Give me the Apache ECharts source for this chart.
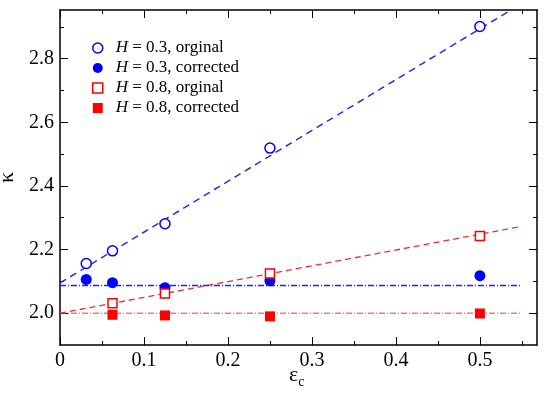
<!DOCTYPE html>
<html>
<head>
<meta charset="utf-8">
<script src="https://cdn.jsdelivr.net/npm/echarts@6/dist/echarts.min.js"></script>
<style>
  html, body { margin: 0; padding: 0; background: #fff; }
  #chart { width: 549px; height: 398px; }
</style>
</head>
<body>
<div id="chart"></div>
<script>
// eps_c values
var epsAll = [0.03125, 0.0625, 0.125, 0.25, 0.5];
var epsH08 = [0.0625, 0.125, 0.25, 0.5];

// kappa
var h03Orig = [2.156, 2.196, 2.281, 2.519, 2.901];
var h03Corr = [2.106, 2.096, 2.080, 2.102, 2.118];
var h08Orig = [2.031, 2.062, 2.125, 2.243];
var h08Corr = [1.995, 1.993, 1.990, 1.999];

// fitted lines (end points)
var fitX = [0, 0.55];
var blueFitX = [0, 0.537];
var blueFitY = [2.095, 2.953];
var redFitY = [2.0, 2.273];
var blueFlatY = [2.087, 2.087];
var redFlatY = [2.0, 2.0];

var xMajor = [0, 0.1, 0.2, 0.3, 0.4, 0.5];
var xMinor = [0.05, 0.15, 0.25, 0.35, 0.45, 0.55];
var yMajor = [2.0, 2.2, 2.4, 2.6, 2.8];
var yMinor = [2.1, 2.3, 2.5, 2.7, 2.9];

var legendNames = ['H = 0.3, orginal', 'H = 0.3, corrected', 'H = 0.8, orginal', 'H = 0.8, corrected'];

function pairs(xs, ys) {
  return xs.map(function (x, i) { return [x, ys[i]]; });
}

var font = 'Liberation Serif, Times New Roman, serif';
var XMIN = 0, XMAX = 0.568, YMIN = 1.9, YMAX = 2.953;

function xAx(pos, ticks, len, main) {
  return {
    type: 'value', position: pos, min: XMIN, max: XMAX,
    axisLine: { show: !!main, onZero: false, lineStyle: { color: '#000', width: 1.5 } },
    axisTick: { show: true, inside: true, length: len, customValues: ticks, lineStyle: { color: '#000', width: 1 } },
    axisLabel: main === 'label' ? {
      customValues: xMajor, margin: 6, color: '#000', fontFamily: font, fontSize: 20,
      formatter: function (v) { return v === 0 ? '0' : v.toFixed(1); }
    } : { show: false },
    splitLine: { show: false }
  };
}

function yAx(pos, ticks, len, main) {
  return {
    type: 'value', position: pos, min: YMIN, max: YMAX,
    axisLine: { show: !!main, onZero: false, lineStyle: { color: '#000', width: 1.5 } },
    axisTick: { show: true, inside: true, length: len, customValues: ticks, lineStyle: { color: '#000', width: 1 } },
    axisLabel: main === 'label' ? {
      customValues: yMajor, margin: 6, color: '#000', fontFamily: font, fontSize: 20,
      formatter: function (v) { return v.toFixed(1); }
    } : { show: false },
    splitLine: { show: false },
    name: main === 'label' ? '\u03ba' : '',
    nameLocation: 'middle', nameGap: 42, nameRotate: 90,
    nameTextStyle: { fontFamily: font, fontSize: 22, color: '#000' }
  };
}

var chart = echarts.init(document.getElementById('chart'));
chart.setOption({
  animation: false,
  backgroundColor: '#fff',
  grid: { left: 60, top: 10, right: 12, bottom: 53, containLabel: false, outerBoundsMode: 'none' },
  xAxis: [
    xAx('bottom', xMajor, 8, 'label'),
    xAx('bottom', xMinor, 4, false),
    xAx('top', xMajor, 8, true),
    xAx('top', xMinor, 4, false)
  ],
  yAxis: [
    yAx('left', yMajor, 8, 'label'),
    yAx('left', yMinor, 4, false),
    yAx('right', yMajor, 8, true),
    yAx('right', yMinor, 4, false)
  ],
  // x axis title (epsilon_c)
  graphic: [{
    type: 'text', left: 289, top: 364,
    style: {
      text: '{e|\u03b5}{s|c}',
      rich: {
        e: { fontFamily: font, fontSize: 22, fill: '#000' },
        s: { fontFamily: font, fontSize: 14, fill: '#000', padding: [14, 0, 0, 0] }
      }
    }
  }],
  legend: {
    orient: 'vertical', left: 87, top: 33,
    itemWidth: 10, itemHeight: 10, itemGap: 0,
    data: [
      { name: legendNames[0], icon: 'circle', itemStyle: { color: '#fff', borderColor: '#0000ff', borderWidth: 1.5, opacity: 1 } },
      { name: legendNames[1], icon: 'circle', itemStyle: { color: '#0000ff', opacity: 1 } },
      { name: legendNames[2], icon: 'rect', itemStyle: { color: '#fff', borderColor: '#ff0000', borderWidth: 1.5, opacity: 1 } },
      { name: legendNames[3], icon: 'rect', itemStyle: { color: '#ff0000', opacity: 1 } }
    ],
    formatter: function (name) { return '{i|H}' + name.slice(1); },
    textStyle: {
      fontFamily: font, fontSize: 17, color: '#000', lineHeight: 20, padding: [0, 0, 0, 8],
      rich: { i: { fontFamily: font, fontSize: 17, fontStyle: 'italic', color: '#000' } }
    }
  },
  series: [
    { type: 'line', data: pairs(blueFitX, blueFitY), symbol: 'none', silent: true, z: 1,
      lineStyle: { color: '#2233d8', width: 1.5, type: [7, 5] } },
    { type: 'line', data: pairs(fitX, redFitY), symbol: 'none', silent: true, z: 1,
      lineStyle: { color: '#e03535', width: 1.3, type: [6, 4] } },
    { type: 'line', data: pairs(fitX, blueFlatY), symbol: 'none', silent: true, z: 1,
      lineStyle: { color: '#2020ff', width: 1.4, type: [6, 2, 1, 2] } },
    { type: 'line', data: pairs(fitX, redFlatY), symbol: 'none', silent: true, z: 1,
      lineStyle: { color: '#ff3030', width: 1, type: [6, 2, 1, 2] } },
    { name: legendNames[0], type: 'scatter', data: pairs(epsAll, h03Orig), symbol: 'circle', symbolSize: 10, z: 3,
      itemStyle: { color: '#fff', borderColor: '#0000ff', borderWidth: 1.5, opacity: 1 } },
    { name: legendNames[1], type: 'scatter', data: pairs(epsAll, h03Corr), symbol: 'circle', symbolSize: 11, z: 3,
      itemStyle: { color: '#0000ff', opacity: 1 } },
    { name: legendNames[2], type: 'scatter', data: pairs(epsH08, h08Orig), symbol: 'rect', symbolSize: 9, z: 3,
      itemStyle: { color: '#fff', borderColor: '#ff0000', borderWidth: 1.5, opacity: 1 } },
    { name: legendNames[3], type: 'scatter', data: pairs(epsH08, h08Corr), symbol: 'rect', symbolSize: 10, z: 3,
      itemStyle: { color: '#ff0000', opacity: 1 } }
  ]
});
</script>
</body>
</html>
